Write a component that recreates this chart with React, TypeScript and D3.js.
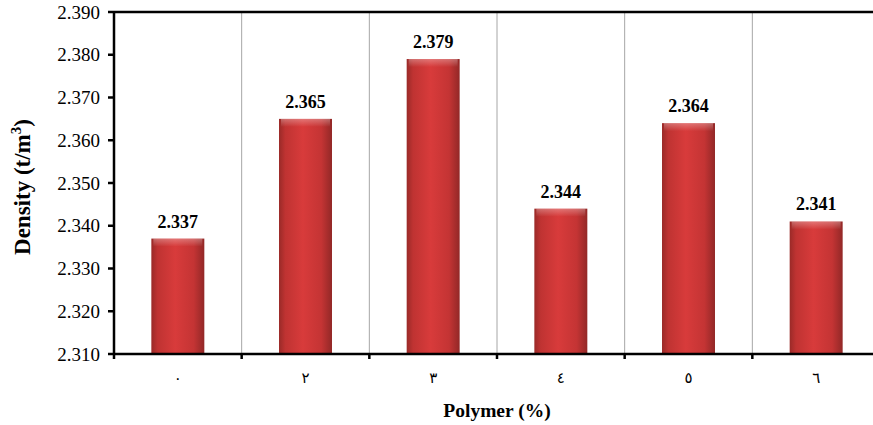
import React from "react";
import * as d3 from "d3";

// Polymer content (Arabic-Indic digits) and measured density
const categories: string[] = ["٠", "٢", "٣", "٤", "٥", "٦"];
const densities: number[] = [2.337, 2.365, 2.379, 2.344, 2.364, 2.341];
const yTicks: number[] = [2.31, 2.32, 2.33, 2.34, 2.35, 2.36, 2.37, 2.38, 2.39];

const W = 873;
const H = 425;
const M = { left: 114, right: 880, top: 12, bottom: 354 };

export default function App() {
  const x = d3
    .scaleBand<string>()
    .domain(categories)
    .range([M.left, M.right])
    .paddingInner(0)
    .paddingOuter(0);
  const y = d3.scaleLinear().domain([2.31, 2.39]).range([M.bottom, M.top]);
  const bw = x.bandwidth() * 0.415;
  const serif = "'Liberation Serif', 'Times New Roman', serif";

  return (
    <svg
      width={W}
      height={H}
      style={{ position: "absolute", left: 0, top: 0, background: "#fff" }}
      fontFamily={serif}
    >
      <defs>
        <linearGradient id="barH" x1="0" x2="1" y1="0" y2="0">
          <stop offset="0" stopColor="#9a2a28" />
          <stop offset="0.12" stopColor="#bf3332" />
          <stop offset="0.45" stopColor="#d83b3b" />
          <stop offset="0.8" stopColor="#c43434" />
          <stop offset="1" stopColor="#922827" />
        </linearGradient>
        <linearGradient id="barTop" x1="0" x2="0" y1="0" y2="1">
          <stop offset="0" stopColor="#ffffff" stopOpacity="0.3" />
          <stop offset="1" stopColor="#ffffff" stopOpacity="0" />
        </linearGradient>
      </defs>

      {/* vertical separators between categories */}
      {categories.slice(1).map((c) => (
        <line
          key={"g" + c}
          x1={x(c)!}
          x2={x(c)!}
          y1={M.top}
          y2={M.bottom}
          stroke="#a6a6a6"
          strokeWidth={1}
        />
      ))}

      {/* bars */}
      {categories.map((c, i) => {
        const cx = x(c)! + x.bandwidth() / 2;
        const top = y(densities[i]);
        return (
          <g key={"b" + c}>
            <rect x={cx - bw / 2} y={top} width={bw} height={M.bottom - top} fill="url(#barH)" />
            <rect x={cx - bw / 2 + 2} y={top} width={bw - 4} height={8} fill="url(#barTop)" />
            <text
              x={cx}
              y={top - 11}
              textAnchor="middle"
              fontWeight="bold"
              fontSize={18}
              fill="#000"
            >
              {densities[i].toFixed(3)}
            </text>
          </g>
        );
      })}

      {/* frame top */}
      <line x1={M.left} x2={M.right} y1={M.top} y2={M.top} stroke="#000" strokeWidth={2.5} />
      {/* y axis */}
      <line x1={M.left} x2={M.left} y1={M.top} y2={M.bottom} stroke="#000" strokeWidth={2.5} />
      {yTicks.map((t) => (
        <g key={"y" + t}>
          <line x1={M.left - 6} x2={M.left} y1={y(t)} y2={y(t)} stroke="#000" strokeWidth={2.5} />
          <text
            x={M.left - 14}
            y={y(t)}
            dy="0.35em"
            textAnchor="end"
            fontSize={19}
            fill="#000"
          >
            {t.toFixed(3)}
          </text>
        </g>
      ))}

      {/* x axis */}
      <line x1={M.left} x2={M.right} y1={M.bottom} y2={M.bottom} stroke="#000" strokeWidth={2.5} />
      {categories.map((c) => (
        <line
          key={"xt" + c}
          x1={x(c)!}
          x2={x(c)!}
          y1={M.bottom}
          y2={M.bottom + 5}
          stroke="#000"
          strokeWidth={2.5}
        />
      ))}
      {categories.map((c) => (
        <text
          key={"xl" + c}
          x={x(c)! + x.bandwidth() / 2}
          y={383}
          textAnchor="middle"
          fontSize={15}
          fontFamily="'DejaVu Sans', 'Noto Sans', sans-serif"
          fill="#000"
        >
          {c}
        </text>
      ))}

      {/* axis titles */}
      <text
        x={(M.left + M.right) / 2}
        y={417}
        textAnchor="middle"
        fontWeight="bold"
        fontSize={19.5}
        fill="#000"
      >
        Polymer (%)
      </text>
      <text
        transform={`translate(30, 187) rotate(-90)`}
        textAnchor="middle"
        fontWeight="bold"
        fontSize={23}
        fill="#000"
      >
        Density (t/m
        <tspan dy="-9" fontSize={15}>3</tspan>
        <tspan dy="9">)</tspan>
      </text>
    </svg>
  );
}
